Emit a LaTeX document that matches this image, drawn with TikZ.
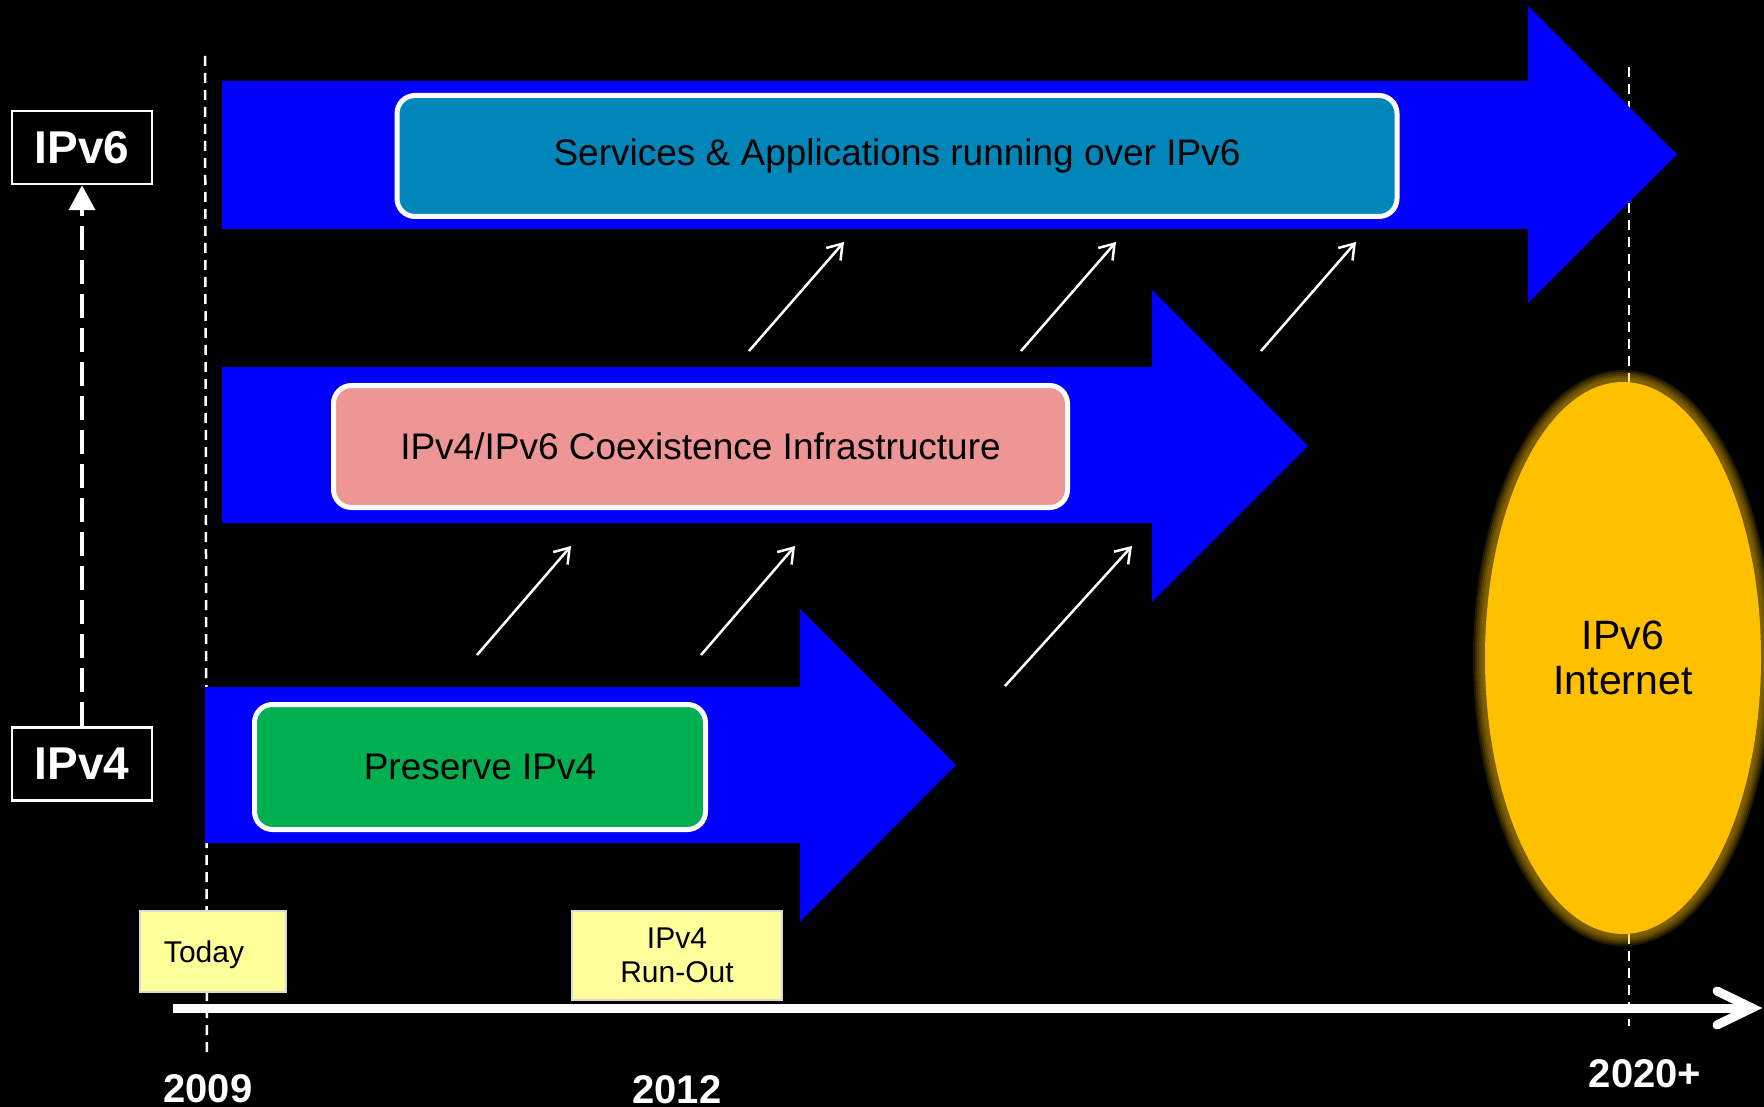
\documentclass[tikz,border=0pt]{standalone}
\usepackage{fontspec}
\setmainfont{Liberation Sans}
\usetikzlibrary{arrows.meta,shapes.geometric}

\definecolor{stageblue}{HTML}{0000FF}
\definecolor{servicefill}{HTML}{0086B9}
\definecolor{coexistfill}{HTML}{EE9595}
\definecolor{preservefill}{HTML}{00AF50}
\definecolor{noteyellow}{HTML}{FFFF99}
\definecolor{netgold}{HTML}{FFC000}

\tikzset{
  phase/.style={draw=white, line width=5pt, rounded corners=18pt, text=black,
    font=\fontsize{37}{40}\selectfont, inner sep=0pt},
  tagbox/.style={draw=white, line width=2.5pt, text=white, inner sep=0pt,
    font=\bfseries\fontsize{46}{46}\selectfont, minimum width=140pt, minimum height=73pt},
  milestone/.style={fill=noteyellow, draw=white!85!black, line width=1.2pt, text=black,
    align=center, inner sep=0pt, font=\fontsize{30}{34}\selectfont},
  yearlabel/.style={text=white, anchor=base, inner sep=0pt,
    font=\bfseries\fontsize{40}{40}\selectfont},
  flow/.style={draw=white, line width=2.5pt, -{Straight Barb[length=14pt,width=19pt]}},
  guide/.style={draw=white, line width=2.5pt, dash pattern=on 10pt off 7pt},
  stagearrow/.style={fill=stageblue, draw=none},
}

\begin{document}
\begin{tikzpicture}[x=1pt,y=-1pt]
  % canvas
  \fill[black] (0,0) rectangle (1764,1107);
  \useasboundingbox (0,0) rectangle (1764,1107);

  % year guide lines
  \coordinate (g09top) at (205,56);
  \coordinate (g09bot) at (207,1055);
  \coordinate (g20top) at (1629,67);
  \coordinate (g20bot) at (1629,1026);
  \draw[guide] (g09top) -- (g09bot);
  \draw[guide] (g20top) -- (g20bot);

  % three stage arrows
  \fill[stagearrow] (222,81) -- (1528,81) -- (1528,6) -- (1677,154.5)
        -- (1528,303) -- (1528,229) -- (222,229) -- cycle;
  \fill[stagearrow] (222,367) -- (1152,367) -- (1152,290) -- (1308,446)
        -- (1152,602) -- (1152,523) -- (222,523) -- cycle;
  \fill[stagearrow] (205,687) -- (800,687) -- (800,609) -- (956,765)
        -- (800,922) -- (800,843) -- (205,843) -- cycle;

  % stage boxes
  \node[phase, fill=servicefill, minimum width=1000pt, minimum height=121pt]
    (services) at (897,156) {Services \& Applications running over IPv6};
  \node[phase, fill=coexistfill, minimum width=734pt, minimum height=122pt]
    (coexist) at (700.5,446.5) {IPv4/IPv6 Coexistence Infrastructure};
  \node[phase, fill=preservefill, minimum width=451pt, minimum height=125pt]
    (preserve) at (480,767) {Preserve IPv4};

  % progression arrows between stages
  \coordinate (u1s) at (749,351);  \coordinate (u1e) at (844,242);
  \coordinate (u2s) at (1021,351); \coordinate (u2e) at (1116,242);
  \coordinate (u3s) at (1261,351); \coordinate (u3e) at (1356,242);
  \coordinate (l1s) at (477,655);  \coordinate (l1e) at (571,546);
  \coordinate (l2s) at (701,655);  \coordinate (l2e) at (795,546);
  \coordinate (l3s) at (1005,686); \coordinate (l3e) at (1132,546);
  \foreach \a/\b in {u1s/u1e,u2s/u2e,u3s/u3e,l1s/l1e,l2s/l2e,l3s/l3e}
    \draw[flow] (\a) -- (\b);

  % IPv6 Internet goal with glow
  \foreach \w in {24,20,16,12,8}
    \draw[netgold, draw opacity=0.13, line width=\w pt]
      (1623,658) ellipse [x radius=138, y radius=276];
  \node[ellipse, fill=netgold, minimum width=276pt, minimum height=552pt,
        inner sep=0pt, align=center, text=black, font=\fontsize{41}{45}\selectfont]
    (internet) at (1623,658) {IPv6\\Internet};

  % IPv4 -> IPv6 axis on the left
  \node[tagbox] (v6) at (82,147.5) {IPv6};
  \node[tagbox] (v4) at (82,764) {IPv4};
  \draw[white, line width=4pt, dash pattern=on 24pt off 10pt,
        -{Triangle[length=25pt,width=26pt]}] (v4.north) -- (v6.south);

  % time axis
  \coordinate (tstart) at (173,1008);
  \coordinate (ttip) at (1752,1008);
  \draw[white, line width=9pt] (tstart) -- (ttip);
  \draw[white, line width=9pt, line cap=round, line join=miter]
    ([shift={(-35,-17)}]ttip) -- (ttip) -- ([shift={(-35,17)}]ttip);

  % milestones
  \node[milestone, minimum width=146pt, minimum height=81pt] (today) at (213,951.5) {};
  \node[text=black, inner sep=0pt, font=\fontsize{30}{34}\selectfont]
    (todaytext) at ([shift={(-9,3)}]today.center) {Today};
  \node[milestone, minimum width=210pt, minimum height=89pt] (runout) at (677,955.5) {IPv4\\Run-Out};

  % years
  \node[yearlabel] (y2009) at (208,1102) {2009};
  \node[yearlabel] (y2012) at (677,1103) {2012};
  \node[yearlabel] (y2020) at (1645,1087) {2020+};
\end{tikzpicture}
\end{document}
